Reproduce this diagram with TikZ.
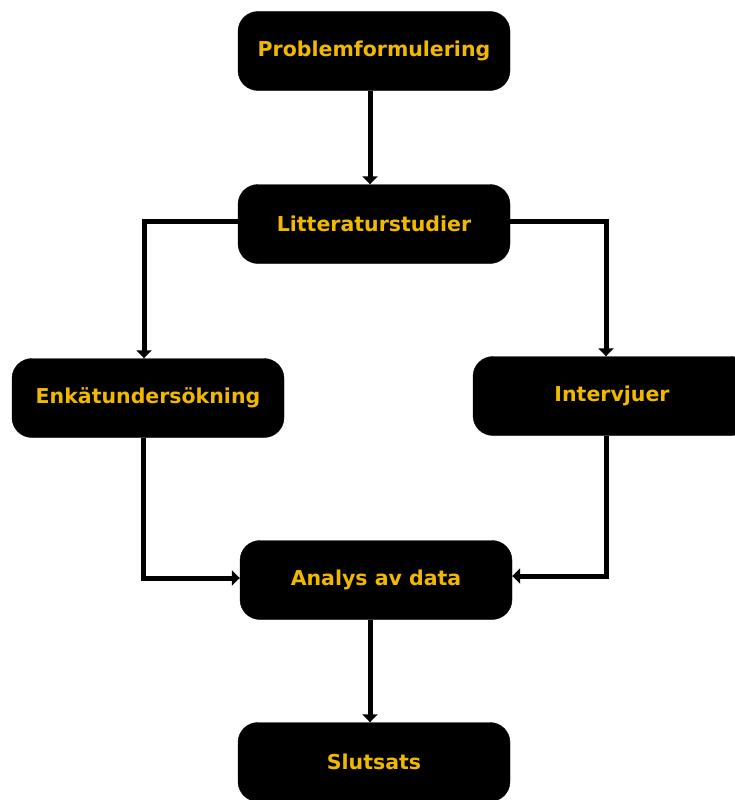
\documentclass[tikz,border=0pt]{standalone}
\usepackage{fontspec}
\setmainfont{DejaVu Sans}
\usetikzlibrary{arrows.meta}
\definecolor{gold}{RGB}{240,184,0}
\begin{document}
\begin{tikzpicture}[x=1pt,y=-1pt,
  box/.style={draw=black,fill=black,rounded corners=20pt,minimum width=272pt,minimum height=79pt,
    text=gold,font=\bfseries\fontsize{20.5}{24}\selectfont,inner sep=0pt,yshift=0pt},
  conn/.style={line width=5pt,-{Triangle[width=15pt,length=8pt]}}]
\useasboundingbox (0,0) rectangle (735,800);
\begin{scope}
\clip (0,0) rectangle (735,800);
\node[box] (p) at (374,51) {Problemformulering};
\node[box] (l) at (374,224) {Litteraturstudier};
\node[box] (e) at (148,398) {Enkätundersökning};
\node[box,minimum width=278pt] (i) at (612,396) {Intervjuer};
\node[box] (a) at (376,580) {Analys av data};
\node[box] (s) at (374,762) {Slutsats};
\coordinate (lL) at (144,221);
\coordinate (lR) at (606,221);
\coordinate (eB) at (143,578);
\coordinate (iB) at (606,576);
\draw[conn] (p.south -| 370,0) -- (l.north -| 370,0);
\draw[conn] (l.west |- lL) -- (lL) -- (e.north -| lL);
\draw[conn] (l.east |- lR) -- (lR) -- (i.north -| lR);
\draw[conn] (e.south -| eB) -- (eB) -- (a.west |- eB);
\draw[conn] (i.south -| iB) -- (iB) -- (a.east |- iB);
\draw[conn] (a.south -| 370,0) -- (s.north -| 370,0);
\end{scope}
\end{tikzpicture}
\end{document}
